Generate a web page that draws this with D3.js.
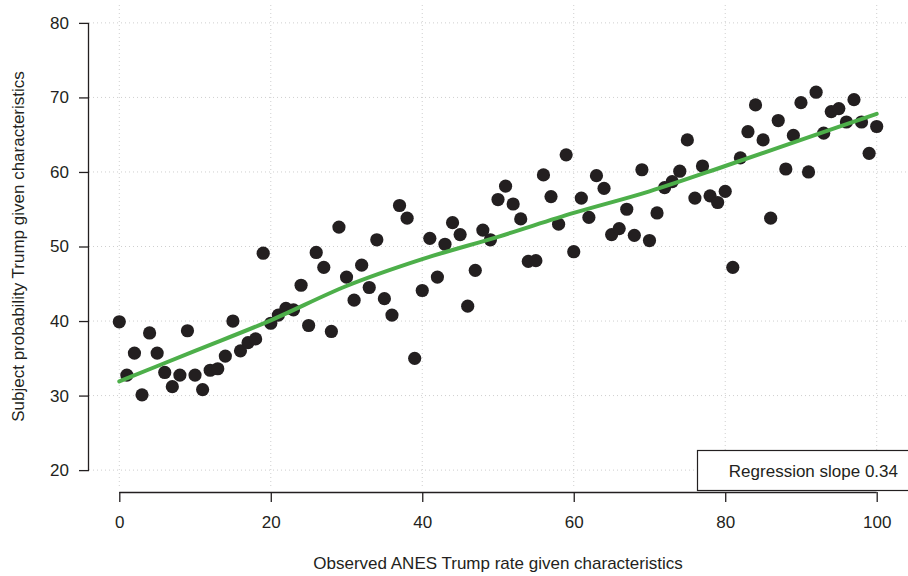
<!DOCTYPE html>
<html>
<head>
<meta charset="utf-8">
<script src="https://cdn.jsdelivr.net/npm/d3@7/dist/d3.min.js"></script>
<style>
  body { margin: 0; background: #fff; }
  svg text { font-family: "Liberation Sans", Arial, Helvetica, sans-serif; fill: #231f20; }
</style>
</head>
<body>
<script>
// observed ANES rate (x) for each bin
const observed = [0,1,2,3,4,5,6,7,8,9,10,11,12,13,14,15,16,17,18,19,20,
  21,22,23,24,25,26,27,28,29,30,31,32,33,34,35,36,37,38,39,40,
  41,42,43,44,45,46,47,48,49,50,51,52,53,54,55,56,57,58,59,60,
  61,62,63,64,65,66,67,68,69,70,71,72,73,74,75,76,77,78,79,80,
  81,82,83,84,85,86,87,88,89,90,91,92,93,94,95,96,97,98,99,100];

// subject probability (y) for each bin
const subjective = [39.9,32.75,35.7,30.1,38.4,35.7,33.1,31.2,32.75,38.7,32.75,
  30.8,33.4,33.6,35.3,40.0,36.0,37.1,37.6,49.1,39.7,
  40.8,41.7,41.5,44.8,39.4,49.2,47.2,38.6,52.6,45.9,
  42.8,47.5,44.5,50.9,43.0,40.8,55.5,53.8,35.0,44.1,
  51.1,45.9,50.3,53.2,51.6,42.0,46.8,52.2,50.9,56.3,
  58.1,55.7,53.7,48.0,48.1,59.6,56.7,53.0,62.3,49.3,
  56.5,53.9,59.5,57.8,51.6,52.4,55.0,51.5,60.3,50.8,
  54.5,57.9,58.7,60.1,64.3,56.5,60.8,56.8,55.9,57.4,
  47.2,61.9,65.4,69.0,64.3,53.8,66.9,60.4,64.9,69.3,
  60.0,70.7,65.2,68.1,68.5,66.7,69.7,66.7,62.5,66.1];

// smoothed fit
const fitX = [0,10,20,30,40,50,60,70,80,90,100];
const fitY = [31.9,36.0,40.1,44.7,48.3,51.3,54.5,57.4,60.8,64.3,67.8];

const xTicks = [0,20,40,60,80,100];
const yTicks = [20,30,40,50,60,70,80];

const W = 908, H = 576;
const plot = {left: 89, right: 907, top: 5, bottom: 488};
const fontSize = 17;

const x = d3.scaleLinear().domain([-4, 104]).range([plot.left, plot.right]);
const y = d3.scaleLinear().domain([17.6, 82.4]).range([plot.bottom, plot.top]);

const svg = d3.select("body").append("svg")
  .attr("width", W)
  .attr("height", H);

// dotted grid
svg.append("g").selectAll("line").data(xTicks).enter().append("line")
  .attr("x1", d => x(d)).attr("x2", d => x(d))
  .attr("y1", plot.top).attr("y2", plot.bottom)
  .attr("stroke", "#cfcfcf").attr("stroke-width", 1)
  .attr("stroke-dasharray", "1,3");
svg.append("g").selectAll("line").data(yTicks).enter().append("line")
  .attr("x1", plot.left).attr("x2", plot.right)
  .attr("y1", d => y(d)).attr("y2", d => y(d))
  .attr("stroke", "#cfcfcf").attr("stroke-width", 1)
  .attr("stroke-dasharray", "1,3");

// axes
const xAxis = svg.append("g")
  .attr("transform", "translate(0,492)")
  .call(d3.axisBottom(x).tickValues(xTicks).tickSize(10).tickPadding(14).tickSizeOuter(0));
xAxis.select(".domain").attr("d", "M" + x(0) + ",0.5H" + x(100));
const yAxis = svg.append("g")
  .attr("transform", "translate(89,0)")
  .call(d3.axisLeft(y).tickValues(yTicks).tickSize(10).tickPadding(10).tickSizeOuter(0));
yAxis.select(".domain").attr("d", "M-0.5," + y(20) + "V" + y(80));

svg.selectAll("g.tick text").attr("font-size", fontSize).style("font-size", fontSize + "px").attr("fill", "#231f20");
svg.selectAll(".tick line, .domain").attr("stroke", "#231f20").attr("stroke-width", 1.3);

// points
const pts = observed.map((d, i) => [d, subjective[i]]);
svg.append("g").selectAll("circle").data(pts).enter().append("circle")
  .attr("cx", d => x(d[0]))
  .attr("cy", d => y(d[1]))
  .attr("r", 6.6)
  .attr("fill", "#231f20");

// fitted line
const line = d3.line()
  .x(d => x(d[0]))
  .y(d => y(d[1]))
  .curve(d3.curveMonotoneX);
svg.append("path")
  .datum(fitX.map((d, i) => [d, fitY[i]]))
  .attr("fill", "none")
  .attr("stroke", "#4daf4a")
  .attr("stroke-width", 4)
  .attr("stroke-linecap", "round")
  .attr("d", line);

// legend box
svg.append("rect")
  .attr("x", 697.5).attr("y", 450.5)
  .attr("width", 212).attr("height", 40)
  .attr("fill", "#fff")
  .attr("stroke", "#231f20").attr("stroke-width", 1.2);
svg.append("text")
  .attr("x", 898).attr("y", 477)
  .attr("text-anchor", "end")
  .attr("font-size", fontSize)
  .text("Regression slope 0.34");

// axis titles
svg.append("text")
  .attr("x", (plot.left + plot.right) / 2).attr("y", 569)
  .attr("text-anchor", "middle")
  .attr("font-size", fontSize)
  .text("Observed ANES Trump rate given characteristics");
svg.append("text")
  .attr("transform", "translate(24," + ((plot.top + plot.bottom) / 2) + ") rotate(-90)")
  .attr("text-anchor", "middle")
  .attr("font-size", fontSize)
  .text("Subject probability Trump given characteristics");
</script>
</body>
</html>
